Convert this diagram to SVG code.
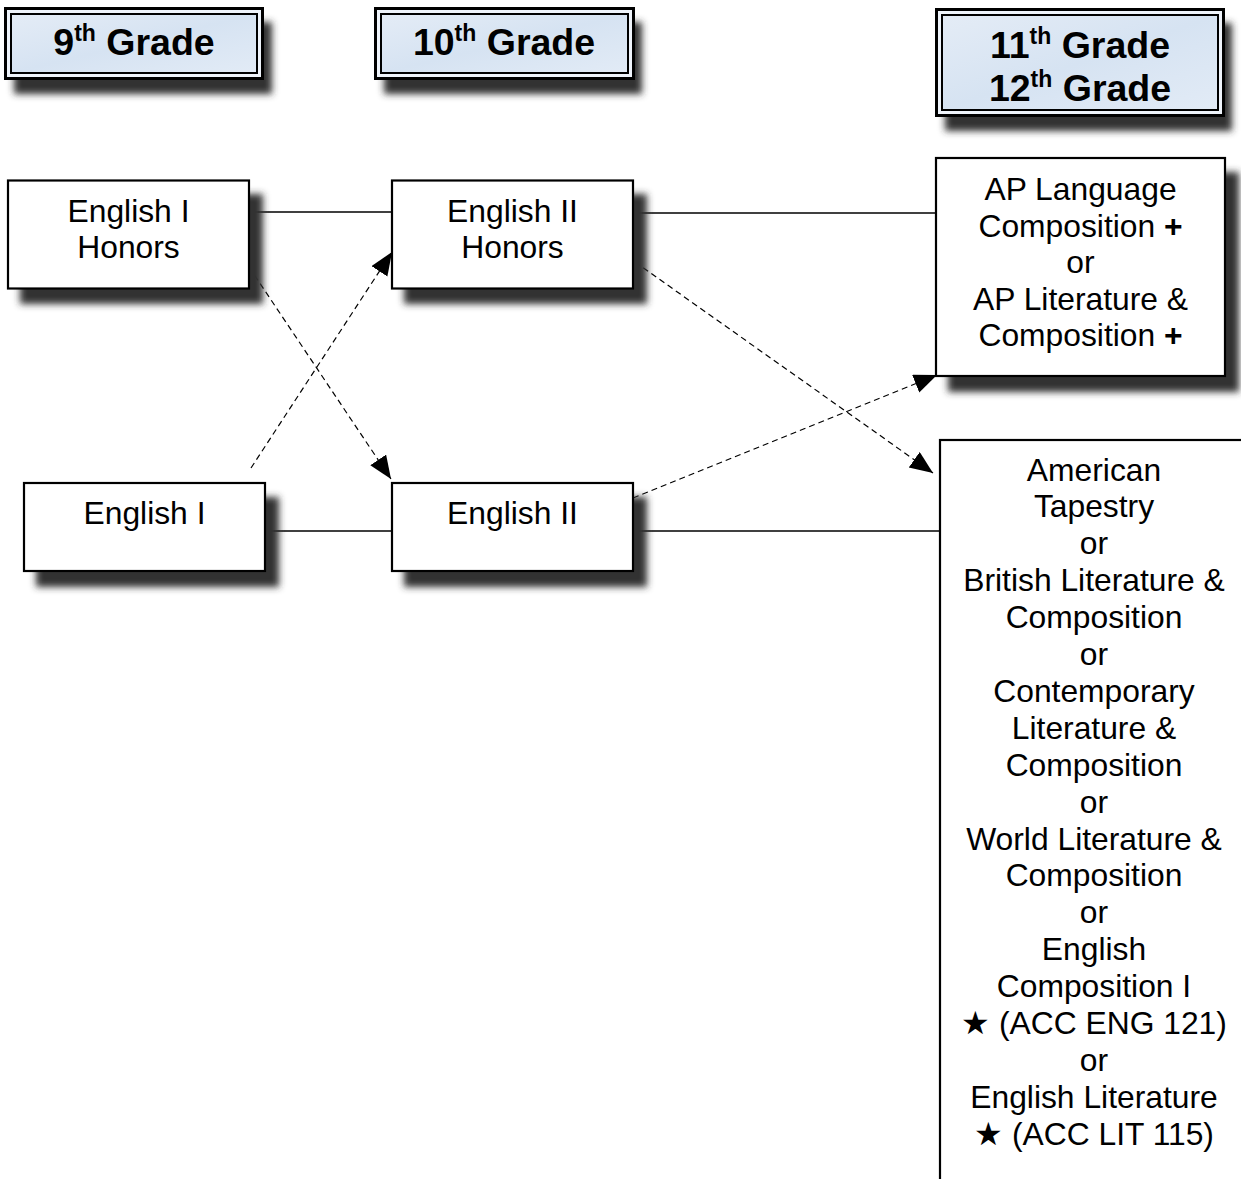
<svg xmlns="http://www.w3.org/2000/svg" width="1241" height="1179" viewBox="0 0 1241 1179">
<style>
text{font-family:"Liberation Sans",Arial,sans-serif;fill:#000}
.hd{font-size:37.5px;font-weight:bold;text-anchor:middle}
.nd{font-size:31.8px;text-anchor:middle}
.box{fill:#fff;stroke:#000;stroke-width:2.2}
.sh{fill:#333;filter:url(#blur)}
.hout{fill:#eef3fa;stroke:#000;stroke-width:3}
.hin{fill:url(#hfill);stroke:#000;stroke-width:2}
.solid{stroke:#000;stroke-width:1.6;fill:none}
.dash{stroke:#000;stroke-width:1.2;fill:none;stroke-dasharray:6 4}
</style>
<defs>
<filter id="blur" x="-20%" y="-20%" width="140%" height="140%"><feGaussianBlur stdDeviation="3.5"/></filter>
<linearGradient id="hfill" x1="0" y1="0" x2="1" y2="1">
<stop offset="0" stop-color="#e4ecf6"/><stop offset="0.5" stop-color="#d6e3f2"/><stop offset="1" stop-color="#e2ebf6"/>
</linearGradient>
<marker id="arr" markerUnits="userSpaceOnUse" markerWidth="26" markerHeight="20" refX="23" refY="9.5" orient="auto">
<path d="M0,0 L23,9.5 L0,19 z" fill="#000"/>
</marker>
</defs>

<g id="header-9">
<rect class="sh" x="14" y="22" width="258" height="72"/>
<rect class="hout" x="5.5" y="8.5" width="257" height="70"/>
<rect class="hin" x="11" y="14" width="246" height="59"/>
<text class="hd" x="134" y="55">9<tspan font-size="23" dy="-14">th</tspan><tspan dy="14"> Grade</tspan></text>
</g>
<g id="header-10">
<rect class="sh" x="384" y="22" width="258" height="72"/>
<rect class="hout" x="375.5" y="8.5" width="258" height="70"/>
<rect class="hin" x="381" y="14" width="247" height="59"/>
<text class="hd" x="504" y="55">10<tspan font-size="23" dy="-14">th</tspan><tspan dy="14"> Grade</tspan></text>
</g>
<g id="header-11-12">
<rect class="sh" x="945" y="23" width="287" height="108"/>
<rect class="hout" x="936.5" y="9.5" width="287" height="106"/>
<rect class="hin" x="942" y="15" width="276" height="95"/>
<text class="hd" x="1080" y="58">11<tspan font-size="23" dy="-14">th</tspan><tspan dy="14"> Grade</tspan></text>
<text class="hd" x="1080" y="101">12<tspan font-size="23" dy="-14">th</tspan><tspan dy="14"> Grade</tspan></text>
</g>

<g id="connectors">
<line class="solid" x1="249" y1="212" x2="392" y2="212"/>
<line class="solid" x1="633" y1="213" x2="936" y2="213"/>
<line class="solid" x1="265" y1="531" x2="392" y2="531"/>
<line class="solid" x1="633" y1="531" x2="940" y2="531"/>
<line class="dash" x1="249" y1="267" x2="391" y2="479" marker-end="url(#arr)"/>
<line class="dash" x1="251" y1="468" x2="392" y2="252" marker-end="url(#arr)"/>
<line class="dash" x1="635" y1="262" x2="933" y2="473" marker-end="url(#arr)"/>
<line class="dash" x1="633" y1="498" x2="937" y2="375" marker-end="url(#arr)"/>
</g>

<g id="english-1-honors">
<rect class="sh" x="20" y="194" width="243" height="110"/>
<rect class="box" x="8" y="180.5" width="241" height="108"/>
<text class="nd" x="128.5" y="222">English I</text>
<text class="nd" x="128.5" y="258">Honors</text>
</g>
<g id="english-2-honors">
<rect class="sh" x="404" y="194" width="243" height="110"/>
<rect class="box" x="392" y="180.5" width="241" height="108"/>
<text class="nd" x="512.5" y="222">English II</text>
<text class="nd" x="512.5" y="258">Honors</text>
</g>
<g id="english-1">
<rect class="sh" x="36" y="497" width="243" height="90"/>
<rect class="box" x="24" y="483" width="241" height="88"/>
<text class="nd" x="144.5" y="524">English I</text>
</g>
<g id="english-2">
<rect class="sh" x="404" y="497" width="243" height="90"/>
<rect class="box" x="392" y="483" width="241" height="88"/>
<text class="nd" x="512.5" y="524">English II</text>
</g>
<g id="ap-courses">
<rect class="sh" x="948" y="172" width="291" height="220"/>
<rect class="box" x="936" y="158" width="289" height="218"/>
<text class="nd" x="1080.5" y="200">AP Language</text>
<text class="nd" x="1080.5" y="236.5">Composition <tspan font-weight="bold">+</tspan></text>
<text class="nd" x="1080.5" y="273">or</text>
<text class="nd" x="1080.5" y="309.5">AP Literature &amp;</text>
<text class="nd" x="1080.5" y="346">Composition <tspan font-weight="bold">+</tspan></text>
</g>
<g id="other-courses">
<rect class="box" x="940" y="440" width="320" height="800"/>
<text class="nd" x="1094" y="480.5">American</text>
<text class="nd" x="1094" y="517.4">Tapestry</text>
<text class="nd" x="1094" y="554.3">or</text>
<text class="nd" x="1094" y="591.2">British Literature &amp;</text>
<text class="nd" x="1094" y="628.1">Composition</text>
<text class="nd" x="1094" y="665">or</text>
<text class="nd" x="1094" y="701.9">Contemporary</text>
<text class="nd" x="1094" y="738.8">Literature &amp;</text>
<text class="nd" x="1094" y="775.7">Composition</text>
<text class="nd" x="1094" y="812.6">or</text>
<text class="nd" x="1094" y="849.5">World Literature &amp;</text>
<text class="nd" x="1094" y="886.4">Composition</text>
<text class="nd" x="1094" y="923.3">or</text>
<text class="nd" x="1094" y="960.2">English</text>
<text class="nd" x="1094" y="997.1">Composition I</text>
<text class="nd" x="1094" y="1034">★ (ACC ENG 121)</text>
<text class="nd" x="1094" y="1070.9">or</text>
<text class="nd" x="1094" y="1107.8">English Literature</text>
<text class="nd" x="1094" y="1144.7">★ (ACC LIT 115)</text>
</g>
</svg>
